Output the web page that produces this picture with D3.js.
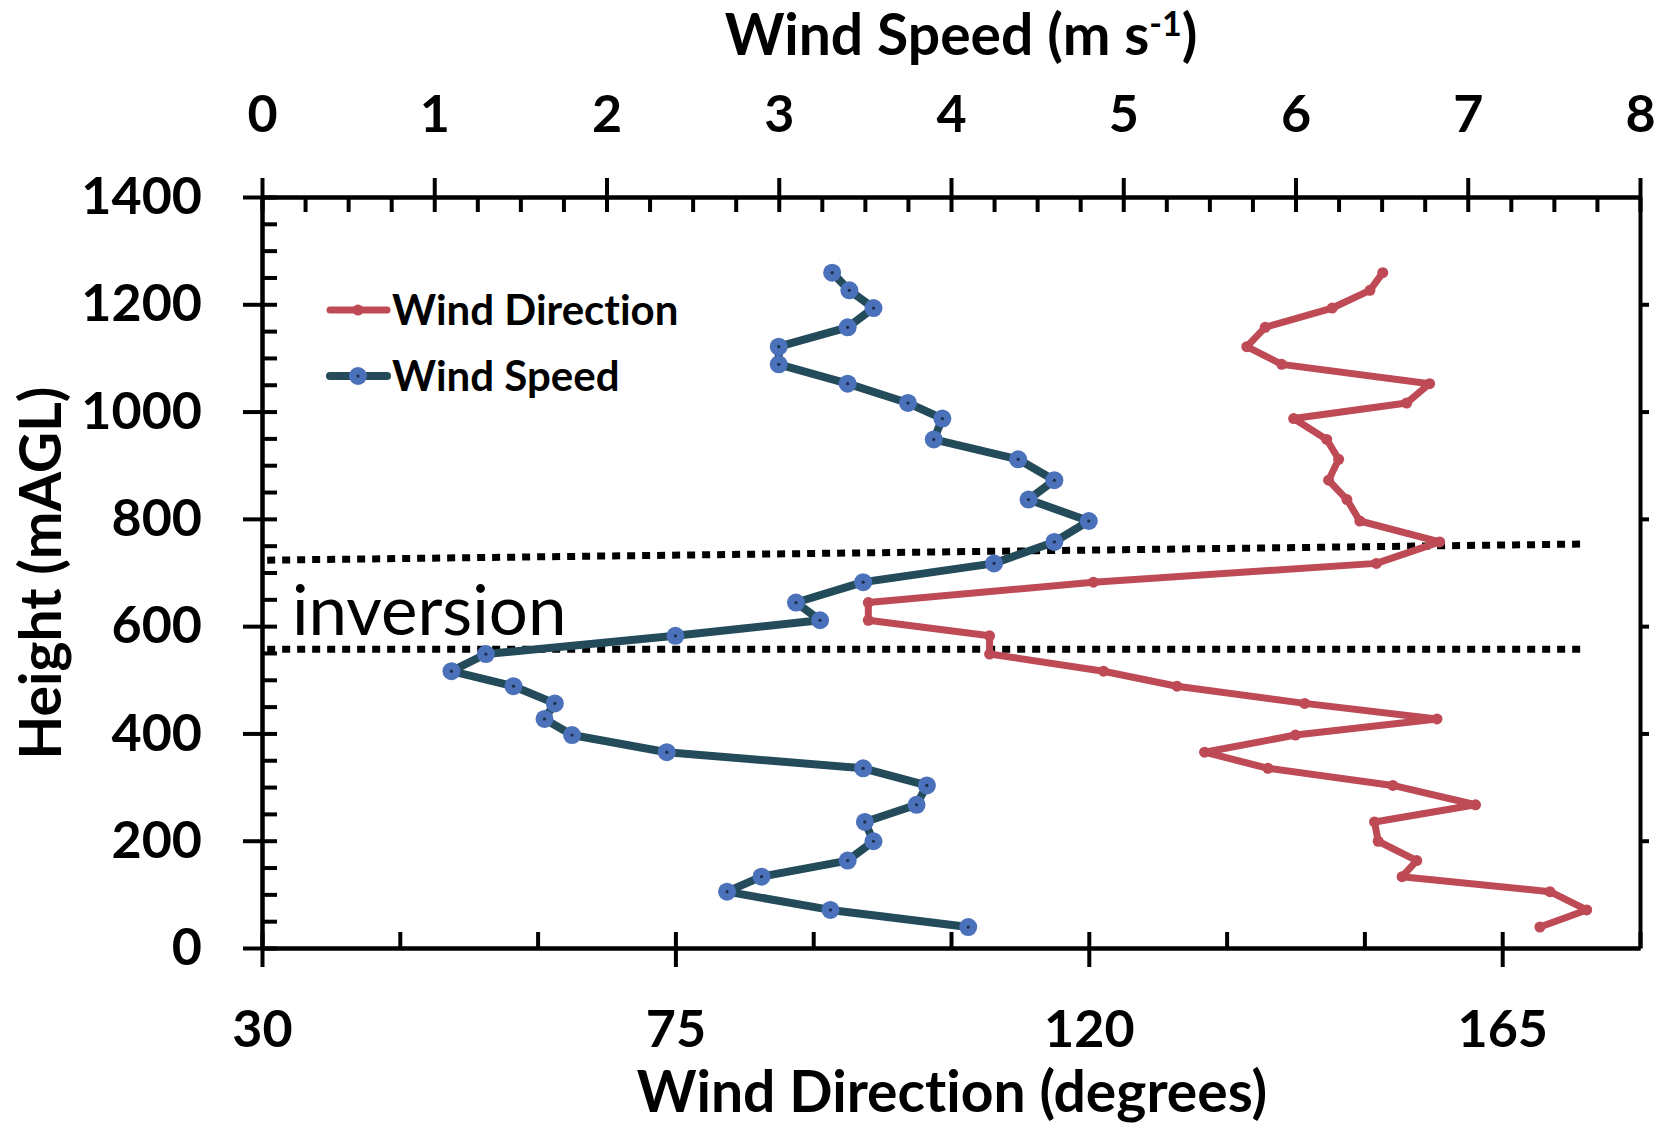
<!DOCTYPE html>
<html>
<head>
<meta charset="utf-8">
<script src="https://cdn.jsdelivr.net/npm/d3@7"></script>
<style>
    body { margin: 0; background: #fff; }
    svg { display: block; font-family: Lato, 'Open Sans', sans-serif; font-variant-ligatures: none; }
</style>
</head>
<body>
<svg id="chart" width="1665" height="1128"></svg>
<script>
// profile heights (m AGL), shared by both series
const heights = [1259, 1226, 1193, 1157, 1121, 1088, 1052, 1016, 987, 948, 911, 872, 836, 796, 757, 717, 682, 644, 611,
    582, 548, 516, 488, 456, 427, 397, 365, 335, 303, 267, 235, 199, 163, 133, 105, 71, 39];
const windSpeed = [3.31, 3.41, 3.55, 3.40, 3.00, 3.00, 3.40, 3.75, 3.95, 3.90, 4.39, 4.60, 4.45, 4.80, 4.60, 4.25, 3.49, 3.10, 3.24,
    2.40, 1.30, 1.10, 1.46, 1.70, 1.64, 1.80, 2.35, 3.49, 3.86, 3.80, 3.50, 3.55, 3.40, 2.90, 2.70, 3.30, 4.10];
const windDirection = [152.0, 150.6, 146.5, 139.2, 137.2, 141.0, 157.1, 154.6, 142.3, 145.9, 147.2, 146.1, 148.1, 149.5, 158.2, 151.3, 120.5, 96.0, 96.0,
    109.2, 109.2, 121.6, 129.6, 143.5, 157.9, 142.5, 132.6, 139.5, 153.1, 162.1, 151.1, 151.5, 155.7, 154.1, 170.2, 174.2, 169.1];

const heightTicks = [0, 200, 400, 600, 800, 1000, 1200, 1400];
const speedTicks = [0, 1, 2, 3, 4, 5, 6, 7, 8];
const directionTicks = [30, 75, 120, 165];

// inversion bounds, drawn as dotted lines (speed, height at each end)
const inversionTop = [[0.03, 723], [7.66, 753]];
const inversionBottom = [[0.03, 557], [7.66, 557]];

const legendLabels = ['Wind Direction', 'Wind Speed'];

(function() {
    'use strict';
    const margin = { top: 197, right: 25, bottom: 180, left: 262 };
    const svg = d3.select('#chart');
    const width = +svg.attr('width') - margin.left - margin.right;
    const height = +svg.attr('height') - margin.top - margin.bottom;

    const dirColor = '#be4a56';
    const speedLine = '#234b5a';
    const speedDot = '#4a71b9';

    const g = svg.append('g').attr('transform', `translate(${margin.left},${margin.top})`);

    const y = d3.scaleLinear().domain([0, 1400]).range([height, 0]);
    const xSpeed = d3.scaleLinear().domain([0, 8]).range([0, width]);
    const xDir = d3.scaleLinear().domain([30, 180]).range([0, width]);

    function styleAxis(sel, fontSize) {
        sel.select('.domain').attr('stroke', '#000').attr('stroke-width', 4);
        sel.selectAll('.tick line').attr('stroke', '#000').attr('stroke-width', 4);
        sel.selectAll('.tick text')
            .attr('fill', '#000')
            .style('font-size', fontSize + 'px')
            .style('font-weight', 'bold')
            .style('font-family', 'Lato, sans-serif');
    }

    // inner minor ticks first
    g.append('g')
        .call(d3.axisRight(y).tickValues(d3.range(0, 1401, 50)).tickSize(15).tickSizeOuter(0).tickFormat(''))
        .call(s => styleAxis(s, 0));
    g.append('g')
        .call(d3.axisBottom(xSpeed).tickValues(d3.range(0, 8.01, 0.25)).tickSize(15).tickSizeOuter(0).tickFormat(''))
        .call(s => styleAxis(s, 0));
    g.append('g')
        .attr('transform', `translate(0,${height})`)
        .call(d3.axisTop(xDir).tickValues(d3.range(30, 181, 15)).tickSize(16).tickSizeOuter(0).tickFormat(''))
        .call(s => styleAxis(s, 0));
    g.append('g')
        .attr('transform', `translate(${width},0)`)
        .call(d3.axisRight(y).tickValues(d3.range(200, 1201, 200)).tickSize(9).tickSizeOuter(0).tickFormat(''))
        .call(s => styleAxis(s, 0));

    // labelled axes with outward major ticks
    g.append('g')
        .call(d3.axisLeft(y).tickValues(heightTicks).tickSize(19).tickPadding(41).tickSizeOuter(0).tickFormat(d3.format('d')))
        .call(s => styleAxis(s, 52));
    g.append('g')
        .call(d3.axisTop(xSpeed).tickValues(speedTicks).tickSize(19).tickPadding(46).tickSizeOuter(0))
        .call(s => styleAxis(s, 52));
    g.append('g')
        .attr('transform', `translate(0,${height})`)
        .call(d3.axisBottom(xDir).tickValues(directionTicks).tickSize(19).tickPadding(43).tickSizeOuter(0))
        .call(s => styleAxis(s, 52));

    // inversion layer
    const invLine = d3.line().x(d => xSpeed(d[0])).y(d => y(d[1]));
    [inversionTop, inversionBottom].forEach(pts => {
        g.append('path')
            .attr('d', invLine(pts))
            .attr('fill', 'none')
            .attr('stroke', '#000')
            .attr('stroke-width', 7)
            .attr('stroke-dasharray', '8,7');
    });
    g.append('text')
        .attr('x', 30)
        .attr('y', 438)
        .style('font-size', '69px')
        .style('font-family', 'Lato, sans-serif')
        .attr('fill', '#000')
        .text('inversion');

    const idx = d3.range(heights.length);

    // wind direction
    g.append('path')
        .attr('d', d3.line().x(i => xDir(windDirection[i])).y(i => y(heights[i]))(idx))
        .attr('fill', 'none')
        .attr('stroke', dirColor)
        .attr('stroke-width', 7)
        .attr('stroke-linejoin', 'round');
    g.append('g').selectAll('circle')
        .data(idx)
        .enter()
        .append('circle')
        .attr('cx', i => xDir(windDirection[i]))
        .attr('cy', i => y(heights[i]))
        .attr('r', 5.5)
        .attr('fill', dirColor);

    // wind speed
    g.append('path')
        .attr('d', d3.line().x(i => xSpeed(windSpeed[i])).y(i => y(heights[i]))(idx))
        .attr('fill', 'none')
        .attr('stroke', speedLine)
        .attr('stroke-width', 8)
        .attr('stroke-linejoin', 'round');
    const dots = g.append('g').selectAll('g')
        .data(idx)
        .enter()
        .append('g')
        .attr('transform', i => `translate(${xSpeed(windSpeed[i])},${y(heights[i])})`);
    dots.append('circle').attr('r', 9).attr('fill', speedDot);
    dots.append('circle').attr('r', 1.6).attr('fill', '#1b2f4a');

    // legend
    const legend = svg.append('g').attr('transform', 'translate(330,310)');
    legendLabels.forEach((label, k) => {
        const row = legend.append('g').attr('transform', `translate(0,${k * 66})`);
        const isDir = k === 0;
        row.append('line')
            .attr('x1', 0).attr('x2', 57)
            .attr('stroke', isDir ? dirColor : speedLine)
            .attr('stroke-width', isDir ? 7 : 8)
            .attr('stroke-linecap', 'round');
        row.append('circle')
            .attr('cx', 28).attr('r', isDir ? 5.5 : 9)
            .attr('fill', isDir ? dirColor : speedDot);
        if (!isDir) row.append('circle').attr('cx', 28).attr('r', 1.6).attr('fill', '#1b2f4a');
        row.append('text')
            .attr('x', 62)
            .attr('dy', '0.36em')
            .style('font-size', '42px')
            .style('font-weight', 'bold')
            .attr('fill', '#000')
            .text(label);
    });

    // axis titles
    const topTitle = svg.append('text')
        .attr('x', 961)
        .attr('y', 55)
        .attr('text-anchor', 'middle')
        .style('font-size', '57px')
        .style('font-weight', 'bold');
    topTitle.append('tspan').text('Wind Speed (m s');
    topTitle.append('tspan').attr('dy', -19).style('font-size', '34px').text('-1');
    topTitle.append('tspan').attr('dy', 19).text(')');

    svg.append('text')
        .attr('x', 952)
        .attr('y', 1112)
        .attr('text-anchor', 'middle')
        .style('font-size', '57px')
        .style('font-weight', 'bold')
        .text('Wind Direction (degrees)');

    svg.append('text')
        .attr('transform', 'translate(61,573) rotate(-90)')
        .attr('text-anchor', 'middle')
        .style('font-size', '57px')
        .style('font-weight', 'bold')
        .text('Height (mAGL)');
})();
</script>
</body>
</html>
